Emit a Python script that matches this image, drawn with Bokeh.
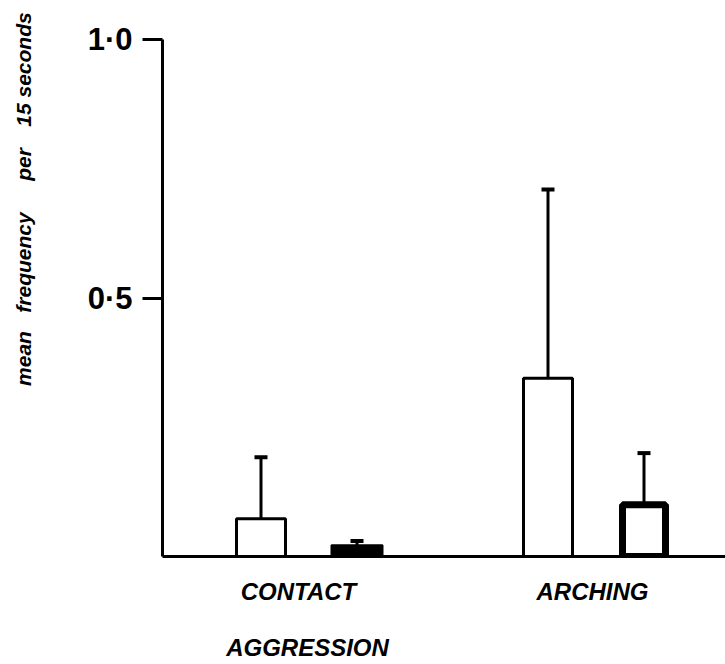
import math
from bokeh.plotting import figure
from bokeh.models import (Range1d, FixedTicker, Whisker, TeeHead, ColumnDataSource, LinearAxis)
from bokeh.embed import file_html
from bokeh.resources import INLINE

# ---- data ----
categories = ["CONTACT AGGRESSION", "ARCHING"]
category_lines = [["CONTACT", "AGGRESSION"], ["ARCHING"]]
open_means = [0.073, 0.345]
open_upper = [0.192, 0.71]
second_means = [0.022, 0.10]
second_upper = [0.03, 0.20]
y_ticks = [0.5, 1.0]
y_tick_labels = ["0·5", "1·0"]
y_label_words = ["mean", "frequency", "per", "15 seconds"]

# ---- layout constants (screen pixels) ----
W, H = 725, 664
LEFT, TOP, BOTTOM_PX = 162, 39, 556
FRAME_W = W - LEFT
FRAME_H = BOTTOM_PX - TOP

group_centers = [146.5, 433.5]      # x in frame pixels
offset = 48
bar_w = 49

p = figure(width=W, height=H, output_backend="svg", toolbar_location=None,
           x_range=Range1d(0, FRAME_W), y_range=Range1d(0, 1.0),
           min_border_left=LEFT, min_border_right=0, min_border_top=TOP,
           min_border_bottom=H - BOTTOM_PX)
p.outline_line_color = None
p.xgrid.visible = False
p.ygrid.visible = False
p.background_fill_color = "white"
p.border_fill_color = "white"

x_open = [c - offset for c in group_centers]
x_second = [c + offset for c in group_centers]

# open (white) bars
src_a = ColumnDataSource(dict(x=x_open, top=open_means, upper=open_upper))
p.vbar(x="x", top="top", bottom=0, width=bar_w, source=src_a,
       fill_color="white", line_color="black", line_width=3)

# second series: solid black for contact, heavy-outlined for arching
src_b = ColumnDataSource(dict(x=x_second, top=second_means, upper=second_upper,
                              fill=["black", "white"], lw=[2, 7],
                              w=[bar_w + 2, bar_w - 6]))
p.vbar(x="x", top="top", bottom=0, width="w", source=src_b,
       fill_color="fill", line_color="black", line_width="lw")

for src in (src_a, src_b):
    wh = Whisker(base="x", upper="upper", lower="top", source=src,
                 dimension="height", line_width=3, line_color="black",
                 upper_head=TeeHead(size=13, line_width=4, line_color="black"),
                 lower_head=None)
    p.add_layout(wh)

# main y axis
yax = p.yaxis[0]
yax.ticker = FixedTicker(ticks=y_ticks)
yax.major_label_overrides = {t: l for t, l in zip(y_ticks, y_tick_labels)}
yax.axis_line_width = 3
yax.major_tick_line_width = 3
yax.major_tick_out = 20
yax.major_tick_in = 0
yax.minor_tick_line_color = None
yax.major_label_standoff = 10
yax.major_label_text_font = "Liberation Sans"
yax.major_label_text_font_style = "bold"
yax.major_label_text_font_size = "31px"
yax.major_label_text_color = "black"


def data_y(py):
    return (BOTTOM_PX - py) / FRAME_H


def label_axis(ticks, labels, standoff, font_size, orientation="horizontal"):
    ax = LinearAxis(ticker=FixedTicker(ticks=ticks),
                    major_label_overrides={t: l for t, l in zip(ticks, labels)})
    ax.axis_line_color = None
    ax.major_tick_line_color = None
    ax.minor_tick_line_color = None
    ax.major_tick_out = 0
    ax.major_tick_in = 0
    ax.major_label_standoff = standoff
    ax.major_label_text_font = "Liberation Sans"
    ax.major_label_text_font_style = "bold italic"
    ax.major_label_text_font_size = font_size
    ax.major_label_text_color = "black"
    ax.major_label_orientation = orientation
    return ax


# main x axis: first line of category labels
xax = p.xaxis[0]
first_lines = [ls[0] for ls in category_lines]
first_x = [136, 430]
xax.ticker = FixedTicker(ticks=first_x)
xax.major_label_overrides = {t: l for t, l in zip(first_x, first_lines)}
xax.axis_line_width = 3
xax.major_tick_line_color = None
xax.minor_tick_line_color = None
xax.major_tick_out = 0
xax.major_tick_in = 0
xax.major_label_standoff = 21
xax.major_label_text_font = "Liberation Sans"
xax.major_label_text_font_style = "bold italic"
xax.major_label_text_font_size = "24px"
xax.major_label_text_color = "black"

# second line of category labels
second_lines = [ls[1] for ls in category_lines if len(ls) > 1]
second_x = [145]
p.add_layout(label_axis(second_x, second_lines, 26, "24px"), "below")

# y-axis title, word by word
word_centers = [358, 262, 164, 69]
word_ticks = [data_y(py) for py in word_centers]
p.add_layout(label_axis(word_ticks, y_label_words, 50, "21px", "vertical"), "left")

open("out.html", "w").write(file_html(p, INLINE))
